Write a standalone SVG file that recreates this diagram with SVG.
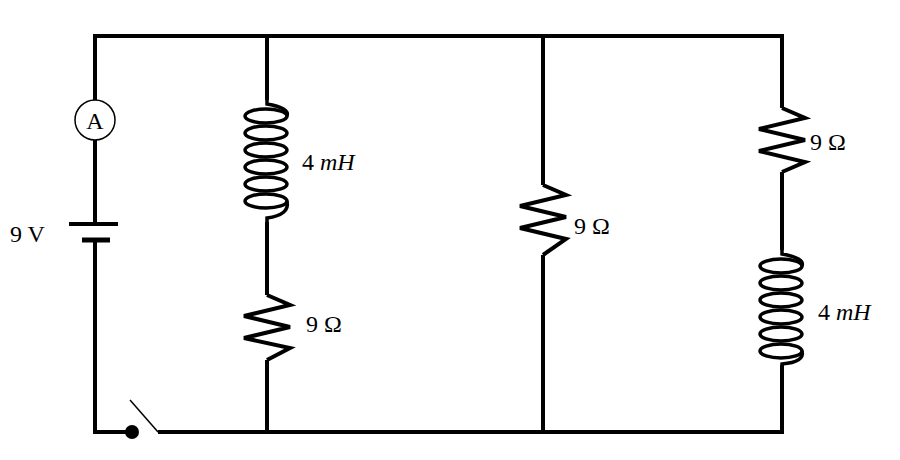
<svg xmlns="http://www.w3.org/2000/svg" width="900" height="460" viewBox="0 0 900 460">
<style>
.w{fill:none;stroke:#000;stroke-width:4;stroke-linejoin:miter}
.c{fill:none;stroke:#000;stroke-width:3.5}
text{font-family:"Liberation Serif",serif;font-size:24px;fill:#000}
</style>
<rect width="900" height="460" fill="#fff"/>
<g id="connectors">
<path class="w" d="M95,224 V36 H782 V108"/>
<path class="w" d="M95,240 V432 H132"/>
<path class="w" d="M158,432 H782 V365"/>
<path class="w" d="M267,36 V100"/>
<path class="w" d="M267,222 V295"/>
<path class="w" d="M267,360 V432"/>
<path class="w" d="M543,36 V185"/>
<path class="w" d="M543,255 V432"/>
<path class="w" d="M782,172 V250"/>
</g>
<g id="ammeter">
<circle cx="95" cy="120" r="20" fill="#fff" stroke="#000" stroke-width="1.5"/>
<text x="95" y="129" text-anchor="middle">A</text>
</g>
<g id="battery">
<line x1="69" y1="224" x2="118" y2="224" stroke="#000" stroke-width="4"/>
<line x1="82" y1="240" x2="110" y2="240" stroke="#000" stroke-width="5"/>
<text x="10" y="242">9 V</text>
</g>
<g id="switch">
<circle cx="132" cy="432" r="7" fill="#000"/>
<line x1="130" y1="400" x2="158" y2="432" stroke="#000" stroke-width="1.5"/>
</g>
<g id="L1">
<path class="c" d="M267,100 V104 Q290,108 287,116"/>
<ellipse class="c" cx="266" cy="116" rx="21" ry="7"/>
<ellipse class="c" cx="266" cy="133" rx="21" ry="7"/>
<ellipse class="c" cx="266" cy="150" rx="21" ry="7"/>
<ellipse class="c" cx="266" cy="167" rx="21" ry="7"/>
<ellipse class="c" cx="266" cy="184" rx="21" ry="7"/>
<ellipse class="c" cx="266" cy="201" rx="21" ry="7"/>
<path class="c" d="M287,201 Q290,215 267,218 V222"/>
<text x="302" y="170">4 <tspan font-style="italic">mH</tspan></text>
</g>
<g id="R1">
<path class="w" d="M267,295 L290,305 L244,316 L290,327 L244,338 L290,348 L267,360"/>
<text x="306" y="332">9 Ω</text>
</g>
<g id="R2">
<path class="w" d="M543,185 L566,195 L520,206 L566,217 L520,228 L566,239 L543,255"/>
<text x="574" y="234">9 Ω</text>
</g>
<g id="R3">
<path class="w" d="M782,108 L805,118 L759,129 L805,140 L759,151 L805,162 L782,172"/>
<text x="810" y="150">9 Ω</text>
</g>
<g id="L2">
<path class="c" d="M782,250 V254 Q805,258 802,266"/>
<ellipse class="c" cx="781" cy="266" rx="21" ry="7"/>
<ellipse class="c" cx="781" cy="283" rx="21" ry="7"/>
<ellipse class="c" cx="781" cy="300" rx="21" ry="7"/>
<ellipse class="c" cx="781" cy="317" rx="21" ry="7"/>
<ellipse class="c" cx="781" cy="334" rx="21" ry="7"/>
<ellipse class="c" cx="781" cy="351" rx="21" ry="7"/>
<path class="c" d="M802,351 Q805,362 782,364 V366"/>
<text x="818" y="320">4 <tspan font-style="italic">mH</tspan></text>
</g>
</svg>
